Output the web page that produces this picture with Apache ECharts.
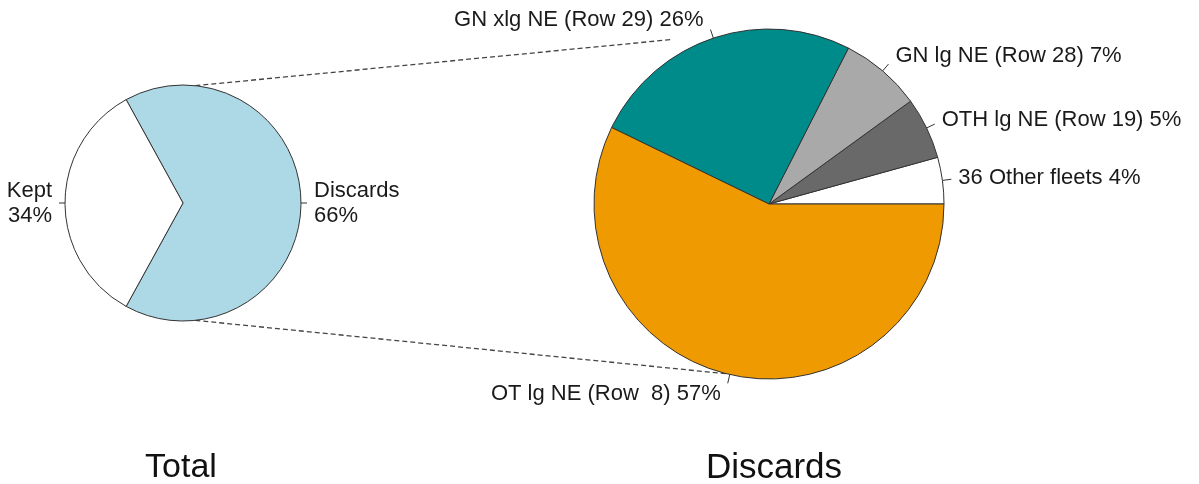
<!DOCTYPE html>
<html>
<head>
<meta charset="utf-8">
<title>Total / Discards</title>
<script src="https://cdn.jsdelivr.net/npm/echarts@6/dist/echarts.min.js"></script>
<style>
  html, body { margin: 0; padding: 0; background: #fff; }
  #main { width: 1199px; height: 484px; }
</style>
</head>
<body>
<div id="main"></div>
<script>
// left pie: total catch
var totalNames = ['Discards', 'Kept'];
var totalValues = [66, 34];
var totalColors = ['#ADD8E6', '#FFFFFF'];

// right pie: discards by fleet (counter-clockwise from 3 o'clock)
var fleetNames = ['36 Other fleets', 'OTH lg NE (Row 19)', 'GN lg NE (Row 28)', 'GN xlg NE (Row 29)', 'OT lg NE (Row  8)'];
// slice shares
var fleetValues = [4.3, 5.7, 7.5, 25.3, 57.2];
// percentages printed in the labels
var fleetPct = [4, 5, 7, 26, 57];
var fleetColors = ['#FFFFFF', '#696969', '#A9A9A9', '#008B8B', '#EE9A00'];

var titles = ['Total', 'Discards'];

var FONT = '"Liberation Sans", Arial, sans-serif';
var leftC = [183, 203], leftR = 118;
var rightC = [769, 204], rightR = 175;

function toData(names, values, colors) {
  return names.map(function (n, i) {
    return { name: n, value: values[i], itemStyle: { color: colors[i] } };
  });
}

// point on a circle, angle in degrees counter-clockwise from east
function polar(c, r, deg) {
  var a = deg * Math.PI / 180;
  return [c[0] + r * Math.cos(a), c[1] - r * Math.sin(a)];
}

var totalSum = totalValues.reduce(function (a, b) { return a + b; }, 0);
// discards slice centred on the right side
var leftStart = -totalValues[0] / totalSum * 180;

// mid angle of each fleet slice (for R-style label placement)
var fleetSum = fleetValues.reduce(function (a, b) { return a + b; }, 0);
var fleetMid = [];
var cum = 0;
fleetValues.forEach(function (v) {
  fleetMid.push((cum + v / 2) / fleetSum * 360);
  cum += v;
});

// dashed connectors between the two pies
var p1 = polar(leftC, leftR, 84), p2 = polar(rightC, rightR * 1.09, 120.4);
var p3 = polar(leftC, leftR, -84), p4 = polar(rightC, rightR * 1.0, 256);

var labelCommon = {
  show: true,
  position: 'outside',
  fontFamily: FONT,
  fontSize: 22,
  color: '#1a1a1a',
  lineHeight: 25,
  distanceToLabelLine: 7
};

var myChart = echarts.init(document.getElementById('main'));
myChart.setOption({
  animation: false,
  backgroundColor: '#fff',
  title: [
    { text: titles[0], left: 176, top: 446, textAlign: 'center',
      textStyle: { fontFamily: FONT, fontSize: 34, fontWeight: 'normal', color: '#111' } },
    { text: titles[1], left: 769, top: 446, textAlign: 'center',
      textStyle: { fontFamily: FONT, fontSize: 35, fontWeight: 'normal', color: '#111' } }
  ],
  series: [
    {
      type: 'pie',
      center: leftC,
      radius: leftR,
      startAngle: leftStart,
      clockwise: false,
      avoidLabelOverlap: false,
      silent: true,
      itemStyle: { borderColor: '#333', borderWidth: 1 },
      label: Object.assign({}, labelCommon, { formatter: '{b}\n{c}%' }),
      labelLine: { show: true, length: 6, length2: 0, lineStyle: { color: '#333', width: 1 } },
      data: toData(totalNames, totalValues, totalColors)
    },
    {
      type: 'pie',
      center: rightC,
      radius: rightR,
      startAngle: 0,
      clockwise: false,
      avoidLabelOverlap: false,
      silent: true,
      itemStyle: { borderColor: '#333', borderWidth: 1 },
      label: Object.assign({}, labelCommon, {
        formatter: function (p) { return p.name + ' ' + fleetPct[p.dataIndex] + '%'; }
      }),
      labelLine: { show: true, length: 9, length2: 0, lineStyle: { color: '#333', width: 1 } },
      // text sits at 1.1r like base R pie(), tick stays where it is
      labelLayout: function (params) {
        var a = fleetMid[params.dataIndex] * Math.PI / 180;
        return {
          dy: -0.06 * rightR * Math.sin(a),
          labelLinePoints: params.labelLinePoints
        };
      },
      data: toData(fleetNames, fleetValues, fleetColors)
    }
  ],
  graphic: [
    { type: 'line', shape: { x1: p1[0], y1: p1[1], x2: p2[0], y2: p2[1] },
      style: { stroke: '#444', lineWidth: 1.3, lineDash: [5, 3] }, silent: true },
    { type: 'line', shape: { x1: p3[0], y1: p3[1], x2: p4[0], y2: p4[1] },
      style: { stroke: '#444', lineWidth: 1.3, lineDash: [5, 3] }, silent: true }
  ]
});
</script>
</body>
</html>
